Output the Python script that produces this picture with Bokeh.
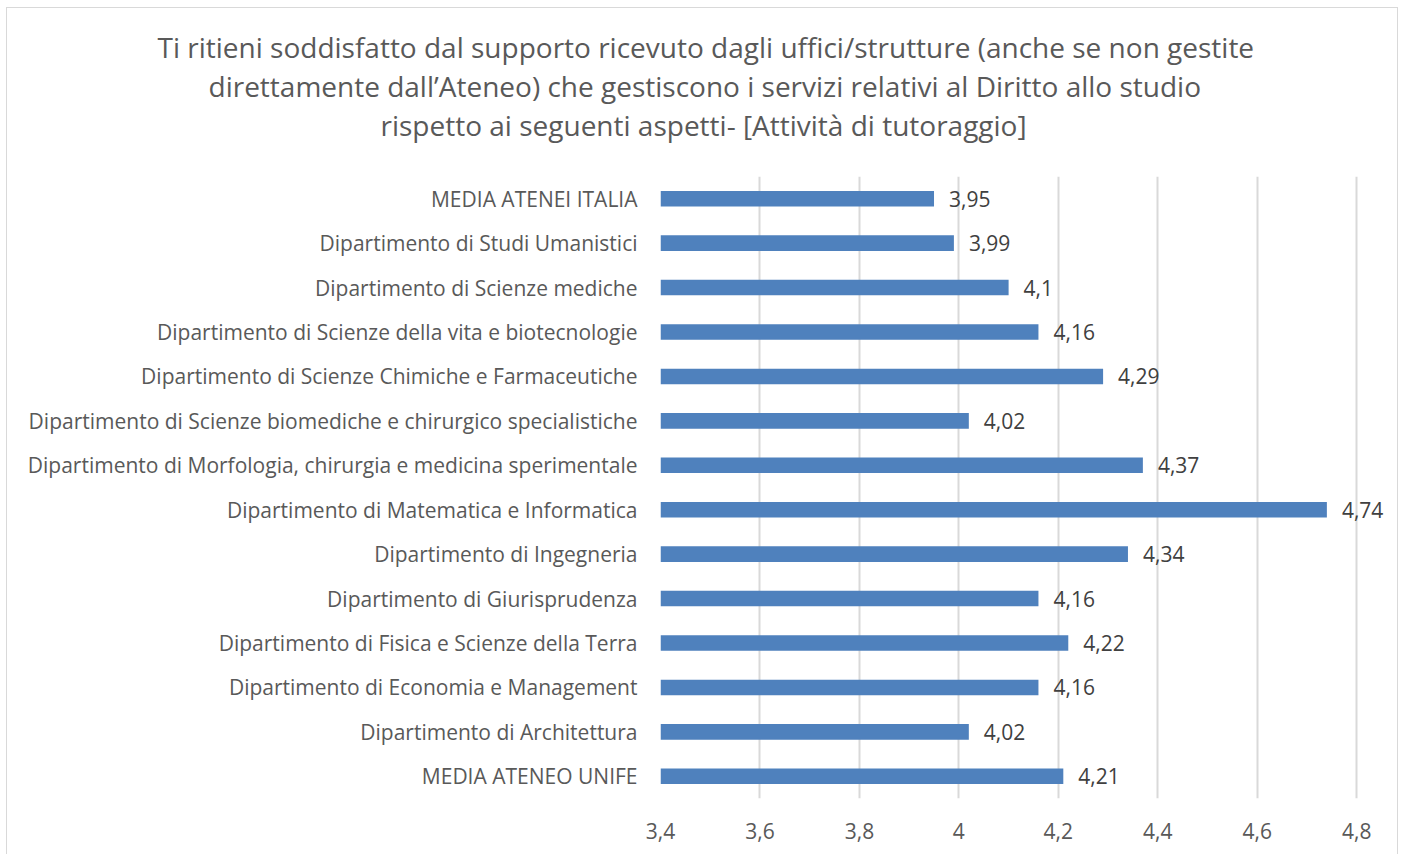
from bokeh.plotting import figure
from bokeh.models import ColumnDataSource, FixedTicker, CustomJSTickFormatter, LabelSet, Title
from bokeh.core.properties import value
from bokeh.embed import file_html
from bokeh.resources import INLINE

categories = [
    "MEDIA ATENEI ITALIA",
    "Dipartimento di Studi Umanistici",
    "Dipartimento di Scienze mediche",
    "Dipartimento di Scienze della vita e biotecnologie",
    "Dipartimento di Scienze Chimiche e Farmaceutiche",
    "Dipartimento di Scienze biomediche e chirurgico specialistiche",
    "Dipartimento di Morfologia, chirurgia e medicina sperimentale",
    "Dipartimento di Matematica e Informatica",
    "Dipartimento di Ingegneria",
    "Dipartimento di Giurisprudenza",
    "Dipartimento di Fisica e Scienze della Terra",
    "Dipartimento di Economia e Management",
    "Dipartimento di Architettura",
    "MEDIA ATENEO UNIFE",
]
values = [3.95, 3.99, 4.1, 4.16, 4.29, 4.02, 4.37, 4.74, 4.34, 4.16, 4.22, 4.16, 4.02, 4.21]
x_ticks = [3.4, 3.6, 3.8, 4.0, 4.2, 4.4, 4.6, 4.8]
axis_start = 3.4
view_end = 4.88
title_lines = [
    "Ti ritieni soddisfatto dal supporto ricevuto dagli uffici/strutture (anche se non gestite",
    "direttamente dall\u2019Ateneo) che gestiscono i servizi relativi al Diritto allo studio",
    "rispetto ai seguenti aspetti- [Attivit\u00e0 di tutoraggio]",
]

FONT = "Open Sans"
GREY = "#595959"

labels = [("%g" % v).replace(".", ",") for v in values]
source = ColumnDataSource(dict(cat=categories, val=values, lab=labels,
                               left=[axis_start] * len(values)))

p = figure(
    width=1392, height=849,
    y_range=list(reversed(categories)),
    x_range=(axis_start, view_end),
    output_backend="svg", toolbar_location=None,
    min_border_left=653, min_border_right=3, min_border_top=168, min_border_bottom=59,
)
p.styles = {"border": "1px solid #d9d9d9", "margin-left": "6px", "margin-top": "7px"}
p.y_range.range_padding = 0

p.hbar(y="cat", left="left", right="val", height=0.35, source=source,
       fill_color="#4f81bd", line_color=None)
p.add_layout(LabelSet(x="val", y="cat", text="lab", source=source, x_offset=15,
                      text_align="left", text_baseline="middle",
                      text_font=value(FONT), text_font_size="21px", text_color="#404040"))

p.outline_line_color = None
p.ygrid.grid_line_color = None
p.xgrid.grid_line_color = "#d9d9d9"
p.xgrid.grid_line_width = 2

p.xaxis.ticker = FixedTicker(ticks=x_ticks)
p.xaxis.formatter = CustomJSTickFormatter(code="""
    var s = (Math.round(tick*10)/10).toString();
    return s.replace('.', ',');
""")
for ax in (p.xaxis[0], p.yaxis[0]):
    ax.axis_line_color = None
    ax.major_tick_line_color = None
    ax.minor_tick_line_color = None
    ax.major_label_text_font = FONT
    ax.major_label_text_font_size = "21px"
    ax.major_label_text_color = GREY
p.xaxis.major_label_standoff = 18
p.yaxis.major_label_standoff = 17

p.title = None
# spacer between title block and plot area
p.add_layout(Title(text=" ", text_font_size="1px", standoff=30), "above")
title_offsets = [-503, -452, -280]
for line, off in reversed(list(zip(title_lines, title_offsets))):
    p.add_layout(Title(text=line, align="left", offset=off, text_font=FONT,
                       text_font_size="28px", text_color=GREY,
                       text_font_style="normal", standoff=-1), "above")

open("out.html", "w").write(file_html(p, INLINE))
